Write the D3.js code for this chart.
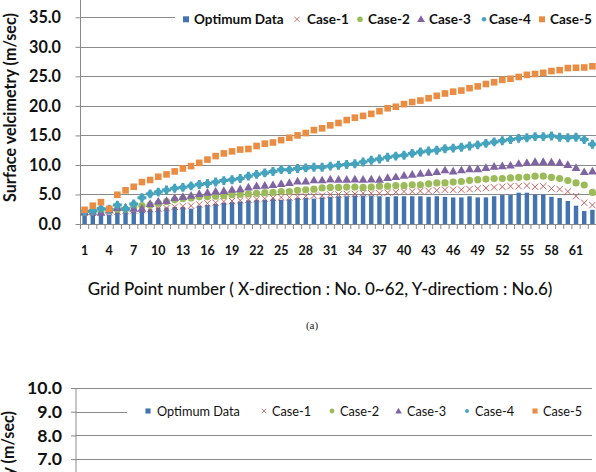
<!DOCTYPE html>
<html><head><meta charset="utf-8">
<script src="https://cdn.jsdelivr.net/npm/d3@7"></script>
<style>body{margin:0;background:#fff}svg{display:block}</style>
</head><body>
<svg id="c" width="596" height="472"></svg>
<script>
// ---------- DATA ----------
const categories = d3.range(1, 64);
const optimum = [1.7,1.8,1.7,1.6,2.2,2.2,2.1,2.3,2.5,2.8, 2.8,2.9,2.9,2.6,3.1,3.2,3.4,3.6,3.7,3.8, 4.0,4.1,4.1,4.3,4.1,4.2,4.4,4.4,4.3,4.5, 4.6,4.7,4.7,4.8,4.8,4.8,4.7,4.6,4.7,4.7, 4.7,4.7,4.6,4.7,4.6,4.5,4.5,4.7,4.5,4.5, 4.7,4.9,4.9,5.3,5.3,5.0,5.0,4.6,4.4,3.9, 3.1,2.2,2.4];
const case1 = [1.9,1.9,2.0,2.0,2.1,2.2,2.3,2.4,2.5,2.6, 2.7,2.9,3.0,3.1,3.3,3.5,3.6,3.8,3.9,4.0, 4.1,4.2,4.3,4.4,4.5,4.5,4.6,4.7,4.8,4.8, 5.0,5.0,5.1,5.1,5.2,5.2,5.2,5.3,5.4,5.5, 5.5,5.6,5.6,5.7,5.8,5.8,5.8,5.9,6.0,6.1, 6.2,6.3,6.4,6.4,6.5,6.3,6.4,6.0,5.9,5.5, 4.7,3.6,3.2];
const case2 = [2.0,2.1,2.1,2.3,2.5,2.5,2.9,3.1,3.2,3.5, 3.8,4.1,4.3,4.4,4.6,4.6,4.7,4.8,4.95,5.0, 5.1,5.2,5.3,5.35,5.5,5.5,5.7,5.8,5.9,6.1, 6.2,6.2,6.25,6.25,6.2,6.25,6.4,6.4,6.5,6.5, 6.65,6.65,6.8,6.95,6.95,7.1,7.2,7.4,7.5,7.6, 7.7,7.7,7.8,7.9,7.95,8.1,8.1,7.9,7.7,7.35, 6.95,6.6,5.35];
const case3 = [2.0,2.1,1.9,2.3,2.7,2.8,2.6,2.6,3.4,3.8, 3.9,4.4,4.6,4.8,5.1,5.3,5.5,5.6,5.8,5.9, 6.2,6.4,6.5,6.6,6.8,6.95,7.2,7.2,7.4,7.4, 7.55,7.5,7.5,7.55,7.5,7.55,7.5,7.8,7.95,8.2, 8.35,8.5,8.65,8.8,9.1,8.9,9.1,9.3,9.3,9.5, 9.7,9.8,9.9,10.2,10.35,10.5,10.5,10.45,10.35,10.0, 9.5,8.8,8.9];
const case4 = [2.1,2.2,2.6,2.5,3.2,2.6,3.4,4.45,5.1,5.4, 5.75,6.05,6.2,6.45,6.7,6.85,7.1,7.35,7.5,7.7, 8.1,8.4,8.65,8.9,9.2,9.2,9.4,9.5,9.6,9.6, 9.8,9.95,10.07,10.2,10.5,10.8,11.0,11.3,11.5,11.65, 11.95,12.2,12.35,12.5,12.75,12.85,13.0,13.2,13.4,13.65, 13.9,14.1,14.3,14.5,14.6,14.8,14.8,14.9,14.7,14.6, 14.7,14.3,13.5];
const case5 = [2.4,3.1,3.7,2.56,4.95,5.7,6.3,7.1,7.45,8.0, 8.4,8.9,9.4,9.8,10.35,10.9,11.5,11.95,12.3,12.6, 12.7,13.2,13.6,13.8,14.2,14.6,15.0,15.4,15.9,16.2, 16.7,17.1,17.6,18.0,18.3,18.65,19.1,19.6,19.85,20.3, 20.65,20.9,21.3,21.7,22.1,22.4,22.6,23.0,23.3,23.7, 24.0,24.4,24.6,24.9,25.25,25.4,25.6,25.9,26.05,26.4, 26.45,26.5,26.7];
const seriesNames = ["Optimum Data","Case-1","Case-2","Case-3","Case-4","Case-5"];
const xTickLabels = [1,4,7,10,13,16,19,22,25,28,31,34,37,40,43,46,49,52,55,58,61];
const yTicksTop = [0,5,10,15,20,25,30,35];
const yTicksBottom = [7,8,9,10];
const yTitle = "Surface velcimetry (m/sec)";
const xTitle = "Grid Point number ( X-direction : No. 0~62, Y-directiom : No.6)";
const captionA = "(a)";

// ---------- STYLE ----------
const FONT = "Lato, 'Open Sans', sans-serif";
const colors = {opt:"#4374b0", c1:"#c0504d", c2:"#9bbb59", c3:"#8064a2", c4:"#44a3bd", c5:"#ea8d43"};
const gridColor = "#8a8a8a";
const svg = d3.select("#c");

function fitSize(text, weight, target, family) {
  const t = svg.append("text").attr("font-family", family || FONT).attr("font-weight", weight)
    .attr("font-size", 40).text(text);
  const w = t.node().getComputedTextLength();
  t.remove();
  return 40 * target / w;
}

// ---------- TOP CHART ----------
const L = 80.5, R = 596.5, Y0 = 224;
const x = d3.scaleBand().domain(categories).range([L, R]).paddingInner(0).paddingOuter(0);
const y = d3.scaleLinear().domain([0, 40]).range([Y0, Y0 - 40 * 5.906]);

const topG = svg.append("g");
topG.append("g").selectAll("line").data(yTicksTop.filter(d => d > 0)).join("line")
  .attr("x1", L).attr("x2", R).attr("y1", d => Math.round(y(d)) + 0.5).attr("y2", d => Math.round(y(d)) + 0.5)
  .attr("stroke", gridColor).attr("stroke-width", 1);

const ySize = fitSize("35.0", "bold", 32);
const yAxisG = topG.append("g").attr("transform", `translate(${L},0)`)
  .call(d3.axisLeft(y).tickValues(yTicksTop).tickFormat(d3.format(".1f")).tickSize(5).tickPadding(14.5));
yAxisG.select(".domain").remove();
yAxisG.selectAll(".tick line").attr("stroke", gridColor);
yAxisG.selectAll("text").attr("font-family", FONT).attr("font-weight", "bold").attr("font-size", ySize).attr("fill", "#111");
topG.append("line").attr("x1", L).attr("x2", L).attr("y1", 0).attr("y2", Y0).attr("stroke", gridColor);

const bw = x.bandwidth() * 0.54;
topG.append("g").selectAll("rect").data(categories).join("rect")
  .attr("x", (d) => x(d) + (x.bandwidth() - bw) / 2)
  .attr("width", bw)
  .attr("y", (d, i) => y(optimum[i]))
  .attr("height", (d, i) => Y0 - y(optimum[i]))
  .attr("fill", colors.opt);

topG.append("line").attr("x1", L).attr("x2", R).attr("y1", Y0 + 0.5).attr("y2", Y0 + 0.5).attr("stroke", gridColor);
topG.append("g").selectAll("line").data(categories.concat([64])).join("line")
  .attr("x1", d => (d <= 63 ? x(d) : R)).attr("x2", d => (d <= 63 ? x(d) : R))
  .attr("y1", Y0).attr("y2", Y0 + 5).attr("stroke", gridColor);
const xSize = fitSize("10", "bold", 14.5);
const xAxisG = topG.append("g").attr("transform", `translate(0,${Y0})`)
  .call(d3.axisBottom(x).tickValues(xTickLabels).tickSize(0).tickPadding(22.5));
xAxisG.select(".domain").remove();
xAxisG.selectAll("text").attr("font-family", FONT).attr("font-weight", "bold").attr("font-size", xSize).attr("fill", "#111");

const cx = (i) => x(categories[i]) + x.bandwidth() / 2;
const g1 = topG.append("g");
case1.forEach((v, i) => {
  const px = cx(i), py = y(v), s = 3.2;
  g1.append("path").attr("d", `M${px-s},${py-s}L${px+s},${py+s}M${px-s},${py+s}L${px+s},${py-s}`)
    .attr("stroke", colors.c1).attr("stroke-width", 0.9).attr("fill", "none");
});
topG.append("g").selectAll("circle").data(case2).join("circle")
  .attr("cx", (d, i) => cx(i)).attr("cy", d => y(d)).attr("r", 3.6).attr("fill", colors.c2);
topG.append("g").selectAll("path").data(case3).join("path")
  .attr("d", d3.symbol(d3.symbolTriangle, 34))
  .attr("transform", (d, i) => `translate(${cx(i)},${y(d) + 0.5})`).attr("fill", colors.c3);
const g4 = topG.append("g");
g4.selectAll("path").data(case4).join("path")
  .attr("d", d3.symbol(d3.symbolCross, 44))
  .attr("transform", (d, i) => `translate(${cx(i)},${y(d)})`).attr("fill", colors.c4);
g4.selectAll("circle").data(case4).join("circle")
  .attr("cx", (d, i) => cx(i)).attr("cy", d => y(d)).attr("r", 3.1).attr("fill", colors.c4);
topG.append("g").selectAll("rect").data(case5).join("rect")
  .attr("x", (d, i) => cx(i) - 3.3).attr("y", d => y(d) - 3.3).attr("width", 6.6).attr("height", 6.6)
  .attr("fill", colors.c5);

const legTop = {y: 19.3, box: [175, 9, 422, 20], marks: [186, 297, 360, 421, 484, 542], texts: [194, 307, 368, 429, 489, 550]};
topG.append("rect").attr("x", legTop.box[0]).attr("y", legTop.box[1]).attr("width", legTop.box[2]).attr("height", legTop.box[3]).attr("fill", "#fff");
const legSize = fitSize("Case-1", "bold", 42);
function legendMarks(g, lx, ly, k) {
  g.append("rect").attr("x", lx[0] - 3 * k).attr("y", ly - 3 * k).attr("width", 6 * k).attr("height", 6 * k).attr("fill", colors.opt);
  const s = 2.6 * k;
  g.append("path").attr("d", `M${lx[1]-s},${ly-s}L${lx[1]+s},${ly+s}M${lx[1]-s},${ly+s}L${lx[1]+s},${ly-s}`).attr("stroke", colors.c1).attr("stroke-width", 0.8);
  g.append("circle").attr("cx", lx[2]).attr("cy", ly).attr("r", 2.8 * k).attr("fill", colors.c2);
  g.append("path").attr("d", d3.symbol(d3.symbolTriangle, 26 * k * k)).attr("transform", `translate(${lx[3]},${ly + 0.5})`).attr("fill", colors.c3);
  g.append("circle").attr("cx", lx[4]).attr("cy", ly).attr("r", 2.3 * k).attr("fill", colors.c4);
  g.append("rect").attr("x", lx[5] - 3 * k).attr("y", ly - 3 * k).attr("width", 6 * k).attr("height", 6 * k).attr("fill", colors.c5);
}
legendMarks(topG, legTop.marks, legTop.y, 1);
topG.append("g").selectAll("text").data(seriesNames).join("text")
  .attr("x", (d, i) => legTop.texts[i]).attr("y", legTop.y).attr("dy", "0.36em")
  .attr("font-family", FONT).attr("font-weight", "bold").attr("font-size", legSize).attr("fill", "#111").text(d => d);

const yTitleSize = fitSize(yTitle, "bold", 189);
topG.append("text").attr("transform", `translate(10,107.5) rotate(-90)`).attr("text-anchor", "middle").attr("dy", "0.36em")
  .attr("font-family", FONT).attr("font-weight", "bold").attr("font-size", yTitleSize).attr("fill", "#111").text(yTitle);
const xTitleSize = fitSize(xTitle, "500", 465);
topG.append("text").attr("x", 320).attr("y", 289).attr("text-anchor", "middle").attr("dy", "0.36em")
  .attr("font-family", FONT).attr("font-weight", "500").attr("font-size", xTitleSize).attr("fill", "#111").text(xTitle);
topG.append("text").attr("x", 312).attr("y", 325).attr("text-anchor", "middle").attr("dy", "0.36em")
  .attr("font-family", "'Liberation Serif', 'DejaVu Serif', serif").attr("font-size", 11).attr("fill", "#222").text(captionA);

// ---------- BOTTOM CHART (partial, cut off by the page edge) ----------
const L2 = 76, R2 = 592;
const y2 = d3.scaleLinear().domain([0, 10]).range([388 + 237, 388]);
const bot = svg.append("g");
bot.append("g").selectAll("line").data(yTicksBottom).join("line")
  .attr("x1", L2).attr("x2", R2).attr("y1", d => Math.round(y2(d)) + 0.5).attr("y2", d => Math.round(y2(d)) + 0.5)
  .attr("stroke", gridColor);
const y2Size = fitSize("10.0", "bold", 35);
const y2AxisG = bot.append("g").attr("transform", `translate(${L2},0)`)
  .call(d3.axisLeft(y2).tickValues(yTicksBottom).tickFormat(d3.format(".1f")).tickSize(5).tickPadding(9));
y2AxisG.select(".domain").remove();
y2AxisG.selectAll(".tick line").attr("stroke", gridColor);
y2AxisG.selectAll("text").attr("font-family", FONT).attr("font-weight", "bold").attr("font-size", y2Size).attr("fill", "#111");
bot.append("line").attr("x1", L2).attr("x2", L2).attr("y1", 388).attr("y2", 472).attr("stroke", gridColor);

const legBot = {y: 411, box: [127, 403, 465, 17], marks: [148, 264, 332, 398.5, 467, 535], texts: [157, 272, 340, 407, 475, 543]};
bot.append("rect").attr("x", legBot.box[0]).attr("y", legBot.box[1]).attr("width", legBot.box[2]).attr("height", legBot.box[3]).attr("fill", "#fff");
const leg2Size = fitSize("Optimum Data", "normal", 83);
legendMarks(bot, legBot.marks, legBot.y, 0.85);
bot.append("g").selectAll("text").data(seriesNames).join("text")
  .attr("x", (d, i) => legBot.texts[i]).attr("y", legBot.y).attr("dy", "0.36em")
  .attr("font-family", FONT).attr("font-size", leg2Size).attr("fill", "#111").text(d => d);

bot.append("text").attr("transform", `translate(8,411) rotate(-90)`).attr("text-anchor", "end").attr("dy", "0.36em")
  .attr("font-family", FONT).attr("font-weight", "bold").attr("font-size", yTitleSize).attr("fill", "#111").text(yTitle);
</script>
</body></html>
